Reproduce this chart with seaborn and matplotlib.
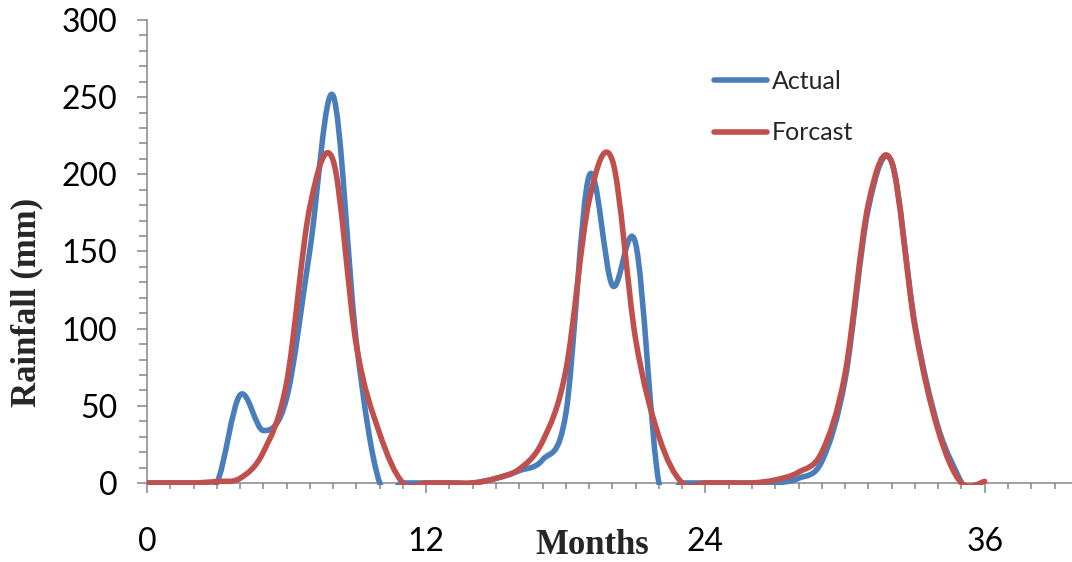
"""
Rainfall: actual vs forecast by month (smoothed lines, Excel-like look).
Output: out.png
"""

import matplotlib.pyplot as plt
import numpy as np
import pandas as pd
import seaborn as sns
from matplotlib.lines import Line2D
from matplotlib.patches import PathPatch, Rectangle
from matplotlib.path import Path
from matplotlib.ticker import MultipleLocator

# monthly values
actual_months = list(range(36))
actual_rain = [0, 0, 0, 0, 57, 34, 55, 151, 251, 91, 0, 0,
               0, 0, 0, 3, 8, 15, 45, 199, 128, 155, 0, 0,
               0, 0, 0, 0, 3, 14, 67, 178, 208, 103, 36, 0]
forecast_months = list(range(37))
forecast_rain = [0, 0, 0, 1, 3, 20, 65, 179, 209, 89, 32, 0,
                 0, 0, 0, 3, 9, 27, 73, 183, 209, 93, 30, 0,
                 0, 0, 0, 2, 7, 20, 71, 181, 208, 101, 34, 0, 1]
x_tick_labels = [0, 12, 24, 36]

BLUE = "#4A7EBB"
RED = "#C0504D"
AXIS_GREY = "#868686"
LINE_W = 4.0

sns.set_theme(style="white")
plt.rcParams["font.family"] = ["Lato", "DejaVu Sans"]


def smooth_path(x, y) -> Path:
    # Excel style smoothing: cubic bezier through every point
    pts = np.column_stack([x, y]).astype(float)
    n = len(pts)
    verts = [pts[0]]
    codes = [Path.MOVETO]
    for i in range(n - 1):
        p0 = pts[i - 1] if i > 0 else pts[i]
        p1 = pts[i]
        p2 = pts[i + 1]
        p3 = pts[i + 2] if i + 2 < n else pts[i + 1]
        verts += [p1 + (p2 - p0) / 6, p2 - (p3 - p1) / 6, p2]
        codes += [Path.CURVE4] * 3
    return Path(verts, codes)


df_actual = pd.DataFrame({"month": actual_months, "rain": actual_rain})
df_forecast = pd.DataFrame({"month": forecast_months, "rain": forecast_rain})

fig = plt.figure(figsize=(10.72, 5.62), dpi=100)
ax = fig.add_axes([0.1371, 0.1406, 0.8629, 0.8238])

clip = Rectangle((0, -0.004), 1, 1.02, transform=ax.transAxes, visible=False)
ax.add_patch(clip)

for df, color in [(df_actual, BLUE), (df_forecast, RED)]:
    patch = PathPatch(smooth_path(df["month"], df["rain"]), facecolor="none",
                      edgecolor=color, linewidth=LINE_W, capstyle="round",
                      joinstyle="round", zorder=3)
    ax.add_patch(patch)
    patch.set_clip_path(clip)

ax.set_xlim(0, 39.75)
ax.set_ylim(0, 300)

ax.xaxis.set_major_locator(MultipleLocator(12))
ax.xaxis.set_minor_locator(MultipleLocator(1))
ax.set_xticks(x_tick_labels)
ax.set_xticklabels([str(v) for v in x_tick_labels])
ax.yaxis.set_major_locator(MultipleLocator(50))
ax.yaxis.set_minor_locator(MultipleLocator(10))

ax.tick_params(axis="both", which="both", direction="out", color=AXIS_GREY,
               width=1.1, labelsize=23, labelcolor="black")
ax.tick_params(axis="x", which="major", length=7.5, pad=24, bottom=True)
ax.tick_params(axis="x", which="minor", length=4.5, bottom=True)
ax.tick_params(axis="y", which="major", length=7.2, pad=14, left=True)
ax.tick_params(axis="y", which="minor", length=5.8, left=True)

sns.despine(ax=ax)
for side in ["left", "bottom"]:
    ax.spines[side].set_color(AXIS_GREY)
    ax.spines[side].set_linewidth(1.1)

ax.set_xlabel("Months", fontsize=25, fontweight="bold",
              fontfamily="Liberation Serif")
ax.xaxis.label.set_va("center")
ax.xaxis.set_label_coords(0.481, -0.136)
ax.set_ylabel("Rainfall (mm)", fontsize=25, fontweight="bold",
              fontfamily="Liberation Serif")
ax.yaxis.label.set_va("center")
ax.yaxis.set_label_coords(-0.1297, 0.389)

handles = [Line2D([], [], color=BLUE, linewidth=LINE_W, solid_capstyle="round"),
           Line2D([], [], color=RED, linewidth=LINE_W, solid_capstyle="round")]
ax.legend(handles, ["Actual", "Forcast"], loc="upper left",
          bbox_to_anchor=(0.613, 0.893), frameon=False, fontsize=18,
          handlelength=2.1, handletextpad=0.2, labelspacing=1.15,
          borderpad=0, borderaxespad=0)

fig.savefig("out.png", dpi=100)
